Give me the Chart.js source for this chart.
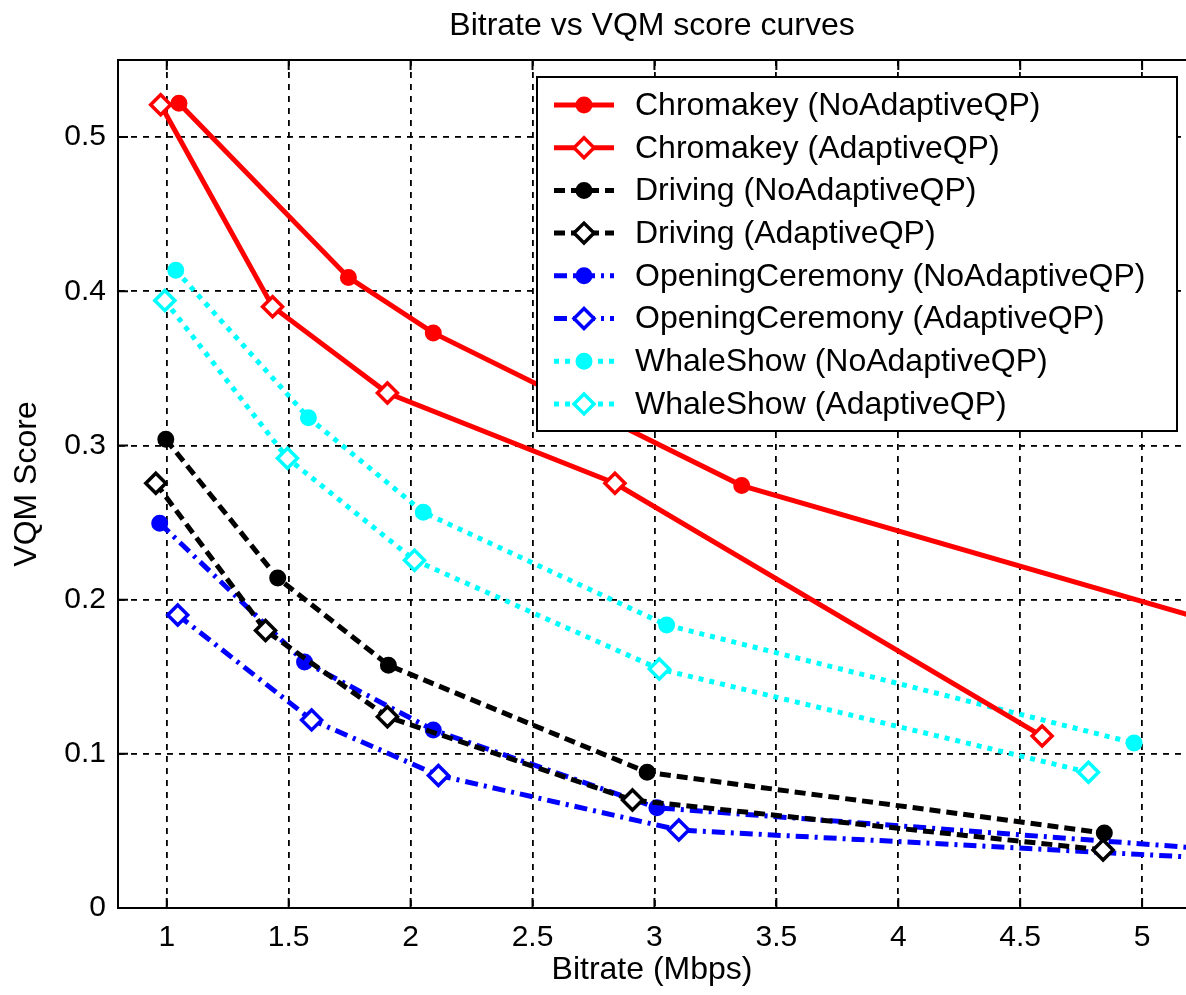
<!DOCTYPE html>
<html>
<head>
<meta charset="utf-8">
<title>Bitrate vs VQM score curves</title>
<script src="https://cdn.jsdelivr.net/npm/chart.js@4.4.1/dist/chart.umd.min.js"></script>
<style>
  html, body { margin: 0; padding: 0; background: #fff; overflow: hidden; }
  #vqmChart { display: block; }
</style>
</head>
<body>
<canvas id="vqmChart" width="1186" height="995"></canvas>
<script>
// values: bitrate (Mbps) and VQM score
const chromaNoAqpX = [1.05, 1.745, 2.093, 3.358, 5.5];
const chromaNoAqpY = [0.522, 0.409, 0.373, 0.274, 0.176];
const chromaAqpX = [0.975, 1.434, 1.905, 2.838, 4.59];
const chromaAqpY = [0.521, 0.390, 0.334, 0.2755, 0.1115];

const drivingNoAqpX = [0.996, 1.455, 1.909, 2.97, 4.845];
const drivingNoAqpY = [0.304, 0.214, 0.1575, 0.088, 0.0486];
const drivingAqpX = [0.955, 1.405, 1.905, 2.91, 4.84];
const drivingAqpY = [0.2755, 0.180, 0.124, 0.070, 0.0376];

const openingNoAqpX = [0.971, 1.565, 2.093, 3.01, 5.5];
const openingNoAqpY = [0.2496, 0.1595, 0.1154, 0.065, 0.0357];
const openingAqpX = [1.045, 1.594, 2.114, 3.10, 5.5];
const openingAqpY = [0.190, 0.122, 0.086, 0.0506, 0.0305];

const whaleNoAqpX = [1.037, 1.581, 2.052, 3.05, 4.967];
const whaleNoAqpY = [0.4136, 0.318, 0.2567, 0.1835, 0.107];
const whaleAqpX = [0.992, 1.495, 2.016, 3.02, 4.78];
const whaleAqpY = [0.394, 0.2917, 0.2256, 0.155, 0.088];

const xTicks = [1, 1.5, 2, 2.5, 3, 3.5, 4, 4.5, 5];
const yTicks = [0, 0.1, 0.2, 0.3, 0.4, 0.5];

const FONT = '"Liberation Sans", Arial, Helvetica, sans-serif';

const pts = (xs, ys) => xs.map((x, i) => ({ x: x, y: ys[i] }));

// one helper per curve, matlab style: filled circle for NoAdaptiveQP, open diamond for AdaptiveQP
function series(label, xs, ys, color, dash, diamond) {
    return {
        label: label,
        data: pts(xs, ys),
        borderColor: color,
        borderWidth: 5,
        borderDash: dash,
        borderCapStyle: 'butt',
        pointStyle: diamond ? 'rectRot' : 'circle',
        pointRadius: diamond ? 10 : 7.5,
        pointBorderWidth: diamond ? 3.5 : 2,
        pointBorderColor: color,
        pointBackgroundColor: diamond ? '#fff' : color,
        fill: false,
        tension: 0,
    };
}

const DASHED = [11, 6];
const DASHDOT = [13, 6, 3, 6];
const DOTTED = [5, 6];

const datasets = [
    series('Chromakey (NoAdaptiveQP)', chromaNoAqpX, chromaNoAqpY, '#ff0000', [], false),
    series('Chromakey (AdaptiveQP)', chromaAqpX, chromaAqpY, '#ff0000', [], true),
    series('Driving (NoAdaptiveQP)', drivingNoAqpX, drivingNoAqpY, '#000000', DASHED, false),
    series('Driving (AdaptiveQP)', drivingAqpX, drivingAqpY, '#000000', DASHED, true),
    series('OpeningCeremony (NoAdaptiveQP)', openingNoAqpX, openingNoAqpY, '#0000ff', DASHDOT, false),
    series('OpeningCeremony (AdaptiveQP)', openingAqpX, openingAqpY, '#0000ff', DASHDOT, true),
    series('WhaleShow (NoAdaptiveQP)', whaleNoAqpX, whaleNoAqpY, '#00ffff', DOTTED, false),
    series('WhaleShow (AdaptiveQP)', whaleAqpX, whaleAqpY, '#00ffff', DOTTED, true),
];

function drawMarker(ctx, ds, x, y) {
    ctx.save();
    ctx.setLineDash([]);
    ctx.lineWidth = ds.pointBorderWidth;
    ctx.strokeStyle = ds.pointBorderColor;
    ctx.fillStyle = ds.pointBackgroundColor;
    const r = ds.pointRadius;
    ctx.beginPath();
    if (ds.pointStyle === 'rectRot') {
        ctx.moveTo(x - r, y);
        ctx.lineTo(x, y - r);
        ctx.lineTo(x + r, y);
        ctx.lineTo(x, y + r);
        ctx.closePath();
    } else {
        ctx.arc(x, y, r, 0, Math.PI * 2);
    }
    ctx.fill();
    ctx.stroke();
    ctx.restore();
}

// frame, inner ticks, titles and the boxed legend
const matlabLook = {
    id: 'matlabLook',
    afterDraw(chart) {
        const ctx = chart.ctx;
        const a = chart.chartArea;
        const sx = chart.scales.x;
        const sy = chart.scales.y;
        ctx.save();

        ctx.strokeStyle = '#000';
        ctx.lineWidth = 2;
        ctx.setLineDash([]);
        ctx.beginPath();
        ctx.moveTo(a.left, a.top);
        ctx.lineTo(a.right, a.top);
        xTicks.forEach(v => {
            const px = sx.getPixelForValue(v);
            ctx.moveTo(px, a.bottom);
            ctx.lineTo(px, a.bottom - 10);
            ctx.moveTo(px, a.top);
            ctx.lineTo(px, a.top + 10);
        });
        yTicks.forEach(v => {
            const py = sy.getPixelForValue(v);
            ctx.moveTo(a.left, py);
            ctx.lineTo(a.left + 10, py);
        });
        ctx.stroke();

        const cx = (a.left + a.right) / 2;
        ctx.fillStyle = '#000';
        ctx.textAlign = 'center';
        ctx.textBaseline = 'middle';
        ctx.font = '32px ' + FONT;
        ctx.fillText('Bitrate vs VQM score curves', cx, 26);
        ctx.fillText('Bitrate (Mbps)', cx, 970);
        ctx.save();
        ctx.translate(27, (a.top + a.bottom) / 2);
        ctx.rotate(-Math.PI / 2);
        ctx.fillText('VQM Score', 0, 0);
        ctx.restore();

        // legend
        const lx0 = 537, ly0 = 77, lx1 = 1177, ly1 = 431;
        ctx.fillStyle = '#fff';
        ctx.fillRect(lx0, ly0, lx1 - lx0, ly1 - ly0);
        ctx.strokeStyle = '#000';
        ctx.lineWidth = 2;
        ctx.strokeRect(lx0, ly0, lx1 - lx0, ly1 - ly0);
        ctx.textAlign = 'left';
        ctx.font = '32px ' + FONT;
        chart.data.datasets.forEach((ds, i) => {
            const cy = 105 + i * 42.7;
            ctx.save();
            ctx.strokeStyle = ds.borderColor;
            ctx.lineWidth = ds.borderWidth;
            ctx.setLineDash(ds.borderDash);
            ctx.beginPath();
            ctx.moveTo(554, cy);
            ctx.lineTo(614, cy);
            ctx.stroke();
            ctx.restore();
            drawMarker(ctx, ds, 584, cy);
            ctx.fillStyle = '#000';
            ctx.fillText(ds.label, 635, cy + 1);
        });
        ctx.restore();
    }
};

const ctx = document.getElementById('vqmChart');
const vqmChart = new Chart(ctx, {
    type: 'line',
    data: { datasets: datasets },
    options: {
        responsive: false,
        animation: false,
        devicePixelRatio: 1,
        layout: { autoPadding: false, padding: { top: 60, right: 0, bottom: 0, left: 0 } },
        plugins: {
            legend: { display: false },
            title: { display: false },
            tooltip: { enabled: false },
        },
        scales: {
            x: {
                type: 'linear',
                min: 0.8,
                max: 5.18,
                afterBuildTicks: s => { s.ticks = xTicks.map(v => ({ value: v })); },
                afterFit: s => {
                    s.height = 87;
                    s.paddingLeft = 0;
                    s.paddingRight = 0;
                },
                grid: { color: '#000', lineWidth: 1.8, drawTicks: false, tickLength: 0 },
                border: { display: true, color: '#000', width: 2, dash: [6, 6] },
                ticks: {
                    color: '#000',
                    font: { family: FONT, size: 30 },
                    padding: 12,
                    maxRotation: 0,
                    autoSkip: false,
                    callback: v => String(v),
                },
            },
            y: {
                type: 'linear',
                min: 0,
                max: 0.55,
                afterBuildTicks: s => { s.ticks = yTicks.map(v => ({ value: v })); },
                afterFit: s => {
                    s.width = 118;
                    s.paddingTop = 0;
                    s.paddingBottom = 0;
                },
                grid: { color: '#000', lineWidth: 1.8, drawTicks: false, tickLength: 0 },
                border: { display: true, color: '#000', width: 2, dash: [6, 6] },
                ticks: {
                    color: '#000',
                    font: { family: FONT, size: 30 },
                    padding: 12,
                    autoSkip: false,
                    callback: v => String(v),
                },
            },
        },
    },
    plugins: [matlabLook],
});
</script>
</body>
</html>
